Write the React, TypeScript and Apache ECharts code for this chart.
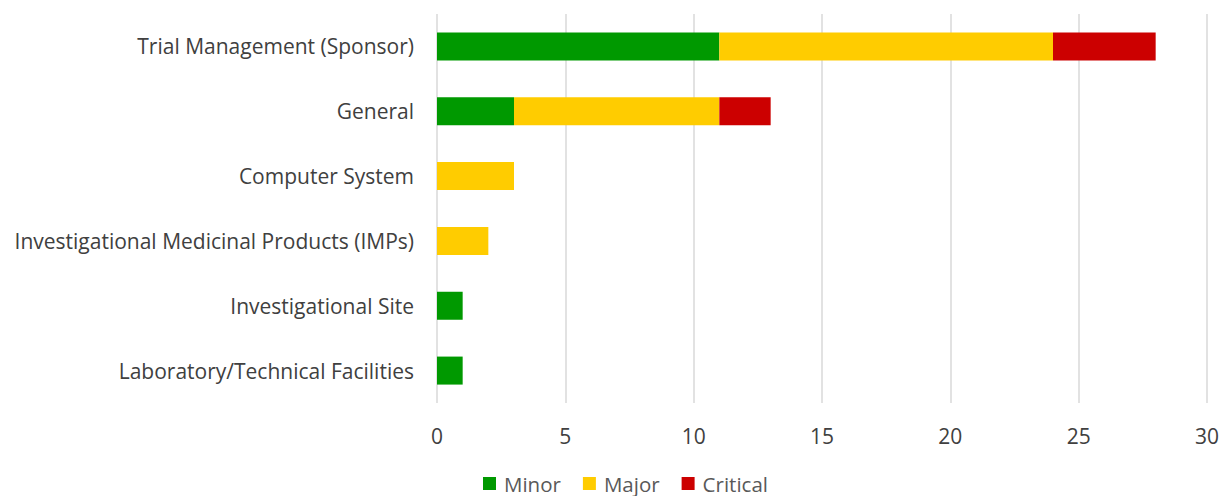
import React, { useEffect, useRef } from "react";
import * as echarts from "echarts";

const categories = [
  "Laboratory/Technical Facilities",
  "Investigational Site",
  "Investigational Medicinal Products (IMPs)",
  "Computer System",
  "General",
  "Trial Management (Sponsor)",
];
const minorValues = [1, 1, 0, 0, 3, 11];
const majorValues = [0, 0, 2, 3, 8, 13];
const criticalValues = [0, 0, 0, 0, 2, 4];
const seriesNames = ["Minor", "Major", "Critical"];
const colors = ["#009900", "#FFCC00", "#CC0000"];

export default function App() {
  const ref = useRef<HTMLDivElement>(null);
  useEffect(() => {
    if (!ref.current) return;
    const chart = echarts.init(ref.current, undefined, { renderer: "svg" });
    const font = "Open Sans, Liberation Sans, sans-serif";
    const toData = (arr: number[]) => arr.map((v) => (v === 0 ? null : v));
    chart.setOption({
      animation: false,
      textStyle: { fontFamily: font },
      grid: { left: 437, right: 16, top: 14, bottom: 93, containLabel: false },
      legend: {
        top: 473,
        left: 483,
        itemWidth: 13,
        itemHeight: 13,
        itemGap: 22,
        icon: "rect",
        padding: 0,
        textStyle: { fontSize: 20.5, color: "#595959", fontFamily: font, padding: [0, 0, 0, 3] },
        data: seriesNames,
      },
      xAxis: {
        type: "value",
        min: 0,
        max: 30,
        interval: 5,
        axisLine: { show: false },
        axisTick: { show: false },
        axisLabel: { fontSize: 21, color: "#404040", margin: 22, fontFamily: font },
        splitLine: { show: true, lineStyle: { color: "#d9d9d9", width: 1.5 } },
      },
      yAxis: {
        type: "category",
        data: categories,
        axisLine: { show: false },
        axisTick: { show: false },
        axisLabel: { fontSize: 21, color: "#404040", margin: 23, fontFamily: font },
      },
      series: [minorValues, majorValues, criticalValues].map((vals, i) => ({
        name: seriesNames[i],
        type: "bar",
        stack: "total",
        barWidth: 28,
        data: toData(vals),
        itemStyle: { color: colors[i] },
      })),
    });
    return () => chart.dispose();
  }, []);
  return (
    <div
      ref={ref}
      style={{ position: "fixed", left: 0, top: 0, width: 1223, height: 496, background: "#fff" }}
    />
  );
}
